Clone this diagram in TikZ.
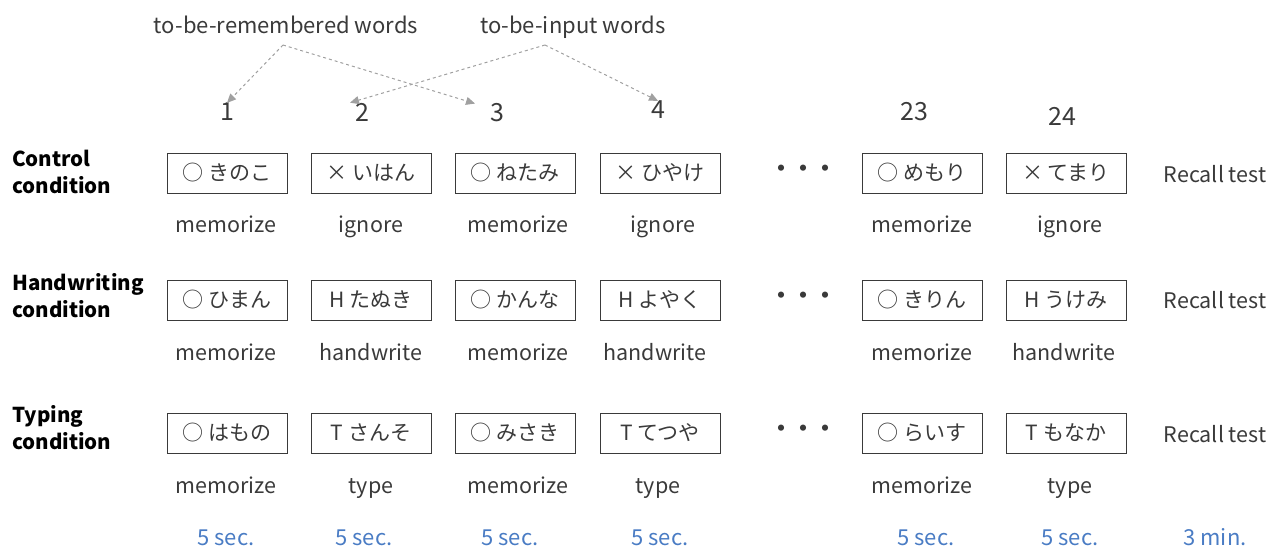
\documentclass[tikz,border=0pt]{standalone}
\usepackage{fontspec}
\setmainfont{Noto Sans CJK JP}
\usetikzlibrary{arrows.meta}
\definecolor{ink}{HTML}{3A3A3A}
\definecolor{timeblue}{HTML}{4A7CC4}
\definecolor{arrowgray}{HTML}{A0A0A0}
\begin{document}
\begin{tikzpicture}[x=1pt,y=-1pt,
  word/.style={draw=ink, line width=1pt, text=ink, minimum width=120pt, minimum height=40pt,
    inner sep=0pt, font=\fontsize{21}{24}\selectfont},
  act/.style={text=ink, font=\fontsize{21.5}{26}\selectfont, inner sep=0pt, text height=15pt, text depth=5pt, yshift=-3pt},
  num/.style={text=ink, font=\fontsize{25}{28}\selectfont, inner sep=0pt},
  cond/.style={text=black, font=\bfseries\fontsize{20.5}{27}\selectfont, align=left, anchor=west, inner sep=0pt},
  secs/.style={text=timeblue, font=\fontsize{22}{26}\selectfont, inner sep=0pt, text height=15pt, text depth=5pt, yshift=-3pt},
  toplab/.style={text=ink, font=\fontsize{22}{26}\selectfont, inner sep=0pt, text height=15pt, text depth=5pt, yshift=-3pt},
  pointer/.style={draw=arrowgray, line width=1pt, dashed, -{Triangle[length=9pt,width=8pt]}},
  dots/.style={text=ink, font=\bfseries\fontsize{22}{26}\selectfont, inner sep=0pt}]
\useasboundingbox (0,0) rectangle (1273,546);

% word-category labels and their pointers
\node[toplab] (rem) at (286,25) {to-be-remembered words};
\node[toplab] (inp) at (573,25) {to-be-input words};
\coordinate (remfoot) at (283,45);
\coordinate (inpfoot) at (545,45);

% trial numbers
\node[num] (n1) at (227,112) {1};
\node[num] (n2) at (362,112) {2};
\node[num] (n3) at (497,113) {3};
\node[num] (n4) at (658,110) {4};
\node[num] (n23) at (914,112) {23};
\node[num] (n24) at (1062,116) {24};

\draw[pointer] (remfoot) -- (n1.north);
\draw[pointer] (remfoot) -- ([xshift=-22pt]n3.north);
\draw[pointer] (inpfoot) -- ([xshift=-12pt]n2.north);
\draw[pointer] (inpfoot) -- (n4.north);

% condition labels
\node[cond] (c1) at (12,172) {Control\\condition};
\node[cond] (c2) at (12,296) {Handwriting\\condition};
\node[cond] (c3) at (12,428) {Typing\\condition};

% control condition
\node[word] (a1) at (227,173) {○ きのこ};
\node[word] (a2) at (371,173) {× いはん};
\node[word] (a3) at (515,173) {○ ねたみ};
\node[word] (a4) at (660,173) {× ひやけ};
\node[dots] (ad) at (803,171) {・・・};
\node[word] (a5) at (922,173) {○ めもり};
\node[word] (a6) at (1066,173) {× てまり};
\node[act] (ar) at (1215,174) {Recall test};
\node[act] at (226,224) {memorize};
\node[act] at (371,224) {ignore};
\node[act] at (518,224) {memorize};
\node[act] at (663,224) {ignore};
\node[act] at (922,224) {memorize};
\node[act] at (1070,224) {ignore};

% handwriting condition
\node[word] (b1) at (227,300) {○ ひまん};
\node[word] (b2) at (371,300) {H たぬき};
\node[word] (b3) at (515,300) {○ かんな};
\node[word] (b4) at (660,300) {H よやく};
\node[dots] (bd) at (803,298) {・・・};
\node[word] (b5) at (922,300) {○ きりん};
\node[word] (b6) at (1066,300) {H うけみ};
\node[act] (br) at (1215,300) {Recall test};
\node[act] at (226,352) {memorize};
\node[act] at (371,352) {handwrite};
\node[act] at (518,352) {memorize};
\node[act] at (655,352) {handwrite};
\node[act] at (922,352) {memorize};
\node[act] at (1064,352) {handwrite};

% typing condition
\node[word] (t1) at (227,433) {○ はもの};
\node[word] (t2) at (371,433) {T さんそ};
\node[word] (t3) at (515,433) {○ みさき};
\node[word] (t4) at (660,433) {T てつや};
\node[dots] (td) at (803,431) {・・・};
\node[word] (t5) at (922,433) {○ らいす};
\node[word] (t6) at (1066,433) {T もなか};
\node[act] (tr) at (1215,434) {Recall test};
\node[act] at (226,485) {memorize};
\node[act] at (371,485) {type};
\node[act] at (518,485) {memorize};
\node[act] at (658,485) {type};
\node[act] at (922,485) {memorize};
\node[act] at (1070,485) {type};

% durations
\node[secs] at (226,537) {5 sec.};
\node[secs] at (364,537) {5 sec.};
\node[secs] at (510,537) {5 sec.};
\node[secs] at (660,537) {5 sec.};
\node[secs] at (926,537) {5 sec.};
\node[secs] at (1070,537) {5 sec.};
\node[secs] at (1215,537) {3 min.};
\end{tikzpicture}
\end{document}
